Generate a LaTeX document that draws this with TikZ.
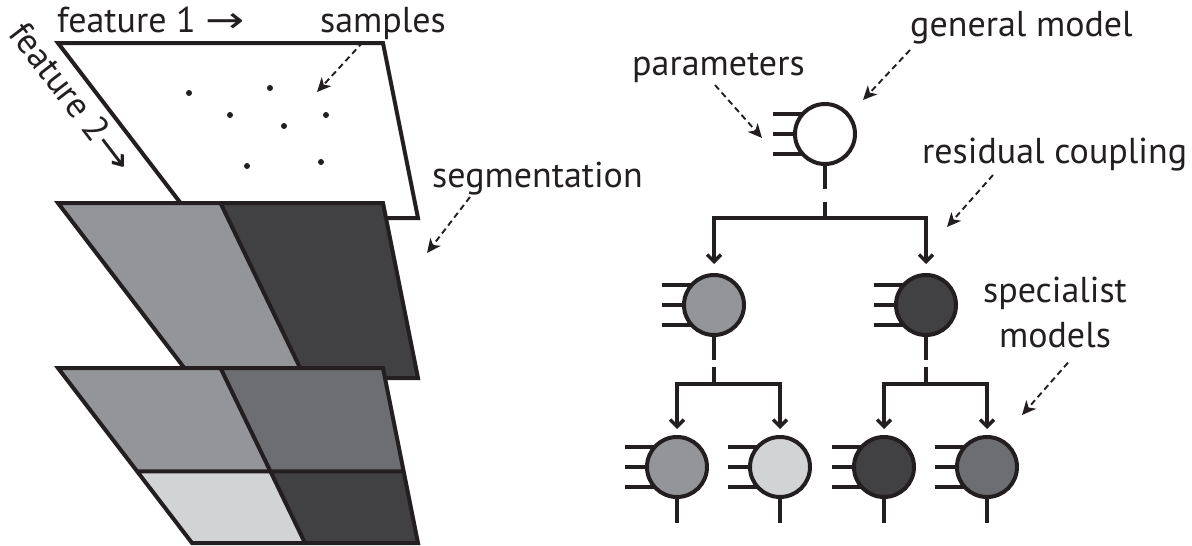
\documentclass[tikz,border=0pt]{standalone}
\usepackage{fontspec}
\setmainfont{PT Sans}
\newfontfamily\arrowfont{DejaVu Sans}
\usepackage{tikz}
\usetikzlibrary{arrows.meta,calc}
\definecolor{ink}{HTML}{231F20}
\definecolor{grey20}{HTML}{D1D3D4}
\definecolor{grey50}{HTML}{939598}
\definecolor{grey70}{HTML}{6D6E71}
\definecolor{grey90}{HTML}{414042}
\newcommand{\axisarrow}{{\arrowfont\scalebox{1.3}[1]{→}}}
\tikzset{
  fig plane/.style={draw=ink, line width=4pt, line join=miter},
  fig model/.style={
    circle,
    draw=ink,
    line width=4pt,
    minimum size=60pt,
    inner sep=0pt,
    outer sep=0pt,
  },
  fig param/.style={draw=ink, line width=3.5pt},
  fig line/.style={draw=ink, line width=3.5pt},
  fig arrow/.style={fig line, -{Straight Barb[length=7pt,width=14pt]}},
  fig label/.style={font=\fontsize{36}{45}\selectfont, text=ink, inner sep=0pt},
  fig pointer/.style={
    draw=ink,
    line width=1.9pt,
    dash pattern=on 6pt off 4pt,
    -{Stealth[length=14pt,width=13pt,inset=4pt]},
  },
  fig dot/.style={circle, fill=ink, inner sep=0pt, minimum size=6pt},
}

\begin{document}
\begin{tikzpicture}[x=1pt, y=-1pt]
  \useasboundingbox (0,0) rectangle (1192,546);

  % feature space and the two segmentations
  \foreach \p/\y in {top/43, mid/203, bot/368} {
    \coordinate (\p-nw) at (58,\y);
    \coordinate (\p-ne) at (383,\y);
    \coordinate (\p-se) at (418,\y+175);
    \coordinate (\p-sw) at (192,\y+175);
    \coordinate (\p-n) at ($(\p-nw)!0.5!(\p-ne)$);
    \coordinate (\p-s) at ($(\p-sw)!0.5!(\p-se)$);
  }
  \coordinate (bot-w) at ($(bot-nw)!0.59!(bot-sw)$);
  \coordinate (bot-e) at ($(bot-ne)!0.59!(bot-se)$);
  \coordinate (bot-c) at ($(bot-n)!0.59!(bot-s)$);

  \draw[fig plane, fill=white] (top-nw) -- (top-ne) -- (top-se) -- (top-sw) -- cycle;
  \foreach \x/\y [count=\i] in {189/93, 270/88, 230/115, 326/115, 284/126, 247/166, 321/162}
    \node[fig dot] (smp\i) at (\x,\y) {};

  \fill[grey50] (mid-nw) -- (mid-n) -- (mid-s) -- (mid-sw) -- cycle;
  \fill[grey90] (mid-n) -- (mid-ne) -- (mid-se) -- (mid-s) -- cycle;
  \draw[fig plane] (mid-nw) -- (mid-ne) -- (mid-se) -- (mid-sw) -- cycle
    (mid-n) -- (mid-s);

  \fill[grey50] (bot-nw) -- (bot-n) -- (bot-c) -- (bot-w) -- cycle;
  \fill[grey70] (bot-n) -- (bot-ne) -- (bot-e) -- (bot-c) -- cycle;
  \fill[grey20] (bot-w) -- (bot-c) -- (bot-s) -- (bot-sw) -- cycle;
  \fill[grey90] (bot-c) -- (bot-e) -- (bot-se) -- (bot-s) -- cycle;
  \draw[fig plane] (bot-nw) -- (bot-ne) -- (bot-se) -- (bot-sw) -- cycle
    (bot-n) -- (bot-s) (bot-w) -- (bot-e);

  \node[fig label, anchor=base west] (feat1) at (57,32) {feature 1 \axisarrow};
  \node[fig label, rotate=-52.6] (feat2) at (72,97) {feature 2\axisarrow};
  \node[fig label, anchor=base west] (samples) at (320,32) {samples};
  \node[fig label, anchor=base west] (segm) at (432,187) {segmentation};

  \coordinate (samplesTip) at (317,92);
  \coordinate (segmTip) at (427,253);
  \draw[fig pointer] ([xshift=43pt,yshift=-10pt]samples.base west) -- (samplesTip);
  \draw[fig pointer] ([xshift=38pt,yshift=-10pt]segm.base west) -- (segmTip);

  % hierarchy of models
  \node[fig model, fill=white] (gen) at (825,134) {};
  \node[fig model, fill=grey50] (spA) at (714,305) {};
  \node[fig model, fill=grey90] (spB) at (926,305) {};
  \node[fig model, fill=grey50] (lfA) at (677,467) {};
  \node[fig model, fill=grey20] (lfB) at (780,467) {};
  \node[fig model, fill=grey90] (lfC) at (884,467) {};
  \node[fig model, fill=grey70] (lfD) at (987,467) {};

  \foreach \n in {gen, spA, spB, lfA, lfB, lfC, lfD} {
    \draw[fig param] (\n.138) -- ++(-30,0);
    \draw[fig param] (\n.west) -- ++(-22,0);
    \draw[fig param] (\n.222) -- ++(-30,0);
  }

  \coordinate (genJ) at ($(gen)+(0,84)$);
  \coordinate (spAJ) at ($(spA)+(0,79)$);
  \coordinate (spBJ) at ($(spB)+(0,79)$);

  \draw[fig line, dash pattern=on 25pt off 13pt on 40pt] (gen.south) -- (genJ);
  \draw[fig line, dash pattern=on 25pt off 7pt on 40pt] (spA.south) -- (spAJ);
  \draw[fig line, dash pattern=on 25pt off 7pt on 40pt] (spB.south) -- (spBJ);

  \draw[fig arrow] (genJ) -| ([yshift=11pt]spA.north);
  \draw[fig arrow] (genJ) -| ([yshift=11pt]spB.north);
  \draw[fig arrow] (spAJ) -| ([yshift=8pt]lfA.north);
  \draw[fig arrow] (spAJ) -| ([yshift=8pt]lfB.north);
  \draw[fig arrow] (spBJ) -| ([yshift=8pt]lfC.north);
  \draw[fig arrow] (spBJ) -| ([yshift=8pt]lfD.north);

  \foreach \n in {lfA, lfB, lfC, lfD}
    \draw[fig line] (\n.south) -- ++(0,26);

  \node[fig label, anchor=base west] (params) at (632,75) {parameters};
  \node[fig label, anchor=base west] (general) at (910,36) {general model};
  \node[fig label, anchor=base west] (residual) at (922,163) {residual coupling};
  \node[fig label, anchor=base, align=center] (special) at (1055,347) {specialist\\models};

  \coordinate (paramsTip) at ($(gen.west)+(-33,4)$);
  \coordinate (generalTip) at (863,100);
  \coordinate (residualTip) at (947,227);
  \coordinate (specialTip) at (1022,415);
  \draw[fig pointer] ([xshift=83pt,yshift=-10pt]params.base west) -- (paramsTip);
  \draw[fig pointer] ([yshift=-14pt]general.base west) -- (generalTip);
  \draw[fig pointer] ([xshift=71pt,yshift=-12pt]residual.base west) -- (residualTip);
  \draw[fig pointer] ([xshift=13pt,yshift=-15pt]special.south) -- (specialTip);
\end{tikzpicture}
\end{document}
